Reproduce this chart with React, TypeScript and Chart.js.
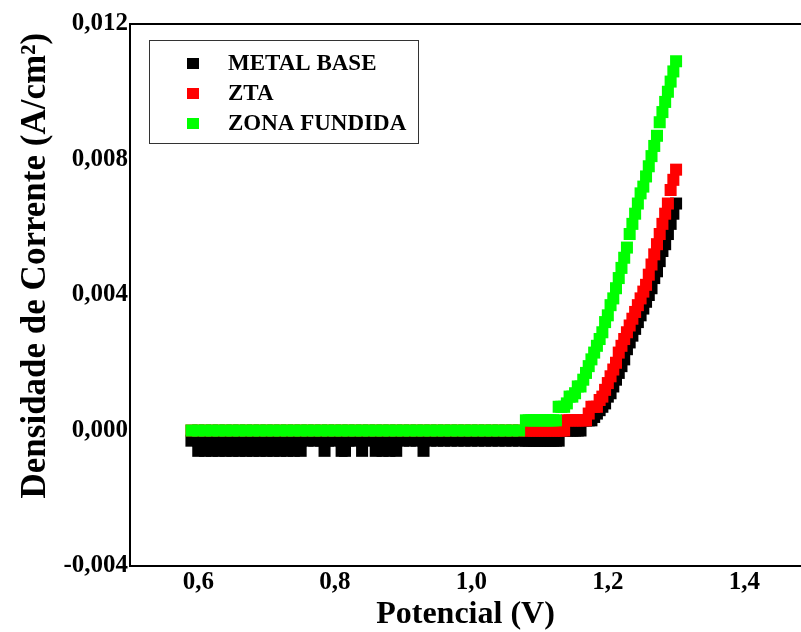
import React, { useEffect, useRef } from "react";
import { Chart, registerables } from "chart.js";

Chart.register(...registerables);

// Potential (V)
const potential = [
  0.59, 0.60, 0.61, 0.62, 0.63, 0.64, 0.65, 0.66, 0.67, 0.68,
  0.69, 0.70, 0.71, 0.72, 0.73, 0.74, 0.75, 0.76, 0.77, 0.78,
  0.79, 0.80, 0.81, 0.82, 0.83, 0.84, 0.85, 0.86, 0.87, 0.88,
  0.89, 0.90, 0.91, 0.92, 0.93, 0.94, 0.95, 0.96, 0.97, 0.98,
  0.99, 1.00, 1.01, 1.02, 1.03, 1.04, 1.05, 1.06, 1.07,
  1.080, 1.084, 1.088, 1.092, 1.096, 1.100, 1.104, 1.108, 1.112, 1.116,
  1.120, 1.124, 1.128, 1.132, 1.136, 1.140, 1.144, 1.148, 1.152, 1.156,
  1.160, 1.164, 1.168, 1.172, 1.176, 1.180, 1.184, 1.188, 1.192, 1.196,
  1.200, 1.204, 1.208, 1.212, 1.216, 1.220, 1.224, 1.228, 1.232, 1.236,
  1.240, 1.244, 1.248, 1.252, 1.256, 1.260, 1.264, 1.268, 1.272, 1.276,
  1.280, 1.284, 1.288, 1.292, 1.296, 1.300,
];

// Current density (A/cm²)
const metalBase = [
  -0.0003, -0.0003, -0.0003, -0.0003, -0.0003, -0.0003, -0.0003, -0.0003, -0.0003, -0.0003,
  -0.0003, -0.0003, -0.0003, -0.0003, -0.0003, -0.0003, -0.0003, -0.0003, -0.0003, -0.0003,
  -0.0003, -0.0003, -0.0003, -0.0003, -0.0003, -0.0003, -0.0003, -0.0003, -0.0003, -0.0003,
  -0.0003, -0.0003, -0.0003, -0.0003, -0.0003, -0.0003, -0.0003, -0.0003, -0.0003, -0.0003,
  -0.0003, -0.0003, -0.0003, -0.0003, -0.0003, -0.0003, -0.0003, -0.0003, -0.0003,
  -0.0003, -0.0003, -0.0003, -0.0003, -0.0003, -0.0003, -0.0003, -0.0003, -0.0003, -0.0003,
  -0.0003, -0.0003, -0.0003, 0, 0, 0, 0, 0, 0, 0,
  0, 0.0003, 0.0003, 0.0003, 0.0003, 0.0004, 0.0005, 0.0006, 0.0007, 0.0008,
  0.0010, 0.0011, 0.0013, 0.0015, 0.0017, 0.0019, 0.0021, 0.0024, 0.0026, 0.0028,
  0.0030, 0.0032, 0.0034, 0.0036, 0.0038, 0.0040, 0.0042, 0.0045, 0.0047, 0.0050,
  0.0053, 0.0055, 0.0058, 0.0061, 0.0064, 0.0067,
];

const zta = [
  0, 0, 0, 0, 0, 0, 0, 0, 0, 0,
  0, 0, 0, 0, 0, 0, 0, 0, 0, 0,
  0, 0, 0, 0, 0, 0, 0, 0, 0, 0,
  0, 0, 0, 0, 0, 0, 0, 0, 0, 0,
  0, 0, 0, 0, 0, 0, 0, 0, 0,
  0, 0, 0, 0, 0, 0, 0, 0, 0, 0,
  0, 0, 0, 0, 0, 0.0003, 0.0003, 0.0003, 0.0003, 0.0003,
  0.0003, 0.0003, 0.0003, 0.0005, 0.0007, 0.0007, 0.0007, 0.0009, 0.0010, 0.0012,
  0.0014, 0.0016, 0.0018, 0.0020, 0.0023, 0.0025, 0.0027, 0.0029, 0.0031, 0.0033,
  0.0035, 0.0037, 0.0039, 0.0041, 0.0043, 0.0046, 0.0049, 0.0052, 0.0055, 0.0058,
  0.0061, 0.0064, 0.0067, 0.0071, 0.0074, 0.0077,
];

const zonaFundida = [
  0, 0, 0, 0, 0, 0, 0, 0, 0, 0,
  0, 0, 0, 0, 0, 0, 0, 0, 0, 0,
  0, 0, 0, 0, 0, 0, 0, 0, 0, 0,
  0, 0, 0, 0, 0, 0, 0, 0, 0, 0,
  0, 0, 0, 0, 0, 0, 0, 0, 0,
  0.0003, 0.0003, 0.0003, 0.0003, 0.0003, 0.0003, 0.0003, 0.0003, 0.0003, 0.0003,
  0.0003, 0.0003, 0.0007, 0.0007, 0.0007, 0.0008, 0.0010, 0.0010, 0.0011, 0.0013,
  0.0013, 0.0015, 0.0017, 0.0019, 0.0021, 0.0023, 0.0025, 0.0027, 0.0029, 0.0032,
  0.0034, 0.0037, 0.0039, 0.0042, 0.0045, 0.0048, 0.0051, 0.0054, 0.0058, 0.0061,
  0.0064, 0.0067, 0.0070, 0.0072, 0.0075, 0.0078, 0.0081, 0.0084, 0.0087, 0.0091,
  0.0094, 0.0097, 0.0100, 0.0103, 0.0106, 0.0109,
];

// Extra (noisy) lower readings of the base metal
const metalBaseLowPotential = [
  0.60, 0.61, 0.62, 0.63, 0.64, 0.65, 0.66, 0.67, 0.68, 0.69,
  0.70, 0.71, 0.72, 0.73, 0.74, 0.75, 0.785, 0.81, 0.815, 0.84,
  0.86, 0.87, 0.88, 0.89, 0.93,
];
const metalBaseLowValues = [
  -0.0006, -0.0006, -0.0006, -0.0006, -0.0006, -0.0006, -0.0006, -0.0006, -0.0006, -0.0006,
  -0.0006, -0.0006, -0.0006, -0.0006, -0.0006, -0.0006, -0.0006, -0.0006, -0.0006, -0.0006,
  -0.0006, -0.0006, -0.0006, -0.0006, -0.0006,
];

const seriesLabels = ["METAL BASE", "ZTA", "ZONA FUNDIDA"];
const seriesColors = ["#000000", "#FF0000", "#00FF00"];
const xTickValues = [0.6, 0.8, 1.0, 1.2, 1.4];
const yTickValues = [-0.004, 0, 0.004, 0.008, 0.012];
const xTitle = "Potencial (V)";
const yTitle = "Densidade de Corrente (A/cm²) ";

const FONT = '"Liberation Serif", "Times New Roman", serif';

const frameLegendPlugin = {
  id: "frameLegend",
  afterDraw(chart: any) {
    const { ctx, chartArea } = chart;
    ctx.save();
    // top frame line
    ctx.fillStyle = "#000";
    ctx.fillRect(chartArea.left - 1, chartArea.top - 1, chartArea.right - chartArea.left + 1, 2);
    // legend box
    const x0 = chartArea.left + 19.5;
    const y0 = chartArea.top + 16.5;
    ctx.strokeStyle = "#333";
    ctx.lineWidth = 1;
    ctx.strokeRect(x0, y0, 269, 103);
    ctx.font = `bold 23px ${FONT}`;
    ctx.textBaseline = "middle";
    ctx.textAlign = "left";
    chart.data.datasets.forEach((ds: any, i: number) => {
      const cy = y0 + 23 + 30 * i;
      ctx.fillStyle = ds.backgroundColor;
      ctx.fillRect(x0 + 37.5, cy - 5.5, 12, 11);
      ctx.fillStyle = "#000";
      ctx.fillText(ds.label, x0 + 78.5, cy + 1);
    });
    ctx.restore();
  },
};

export default function App() {
  const ref = useRef<HTMLCanvasElement>(null);

  useEffect(() => {
    const black = potential.map((x, i) => ({ x, y: metalBase[i] })).concat(
      metalBaseLowPotential.map((x, i) => ({ x, y: metalBaseLowValues[i] }))
    );
    const red = potential.map((x, i) => ({ x, y: zta[i] }));
    const green = potential.map((x, i) => ({ x, y: zonaFundida[i] }));
    const all = [black, red, green];

    const tickFont = { family: FONT, size: 25, weight: "bold" as const };

    const chart = new Chart(ref.current as HTMLCanvasElement, {
      type: "scatter",
      data: {
        datasets: all.map((data, i) => ({
          label: seriesLabels[i],
          data,
          backgroundColor: seriesColors[i],
          borderColor: seriesColors[i],
          pointStyle: "rect",
          pointRadius: 8.5,
          pointBorderWidth: 0,
          borderWidth: 0,
          showLine: false,
          order: 3 - i,
        })),
      },
      options: {
        responsive: false,
        animation: false,
        events: [],
        layout: { autoPadding: false, padding: { top: 24, left: 0, right: 0, bottom: 0 } },
        plugins: {
          legend: { display: false },
          tooltip: { enabled: false },
        },
        scales: {
          x: {
            type: "linear",
            min: 0.5,
            max: 1.483,
            afterBuildTicks: (s: any) => {
              s.ticks = xTickValues.map((v) => ({ value: v }));
            },
            afterFit: (s: any) => {
              s.height = 66;
            },
            grid: { drawOnChartArea: false, drawTicks: false },
            border: { display: true, color: "#000", width: 2 },
            ticks: {
              color: "#000",
              font: tickFont,
              padding: 2,
              autoSkip: false,
              maxRotation: 0,
              callback: (v: any) => Number(v).toFixed(1).replace(".", ","),
            },
            title: {
              display: true,
              text: xTitle,
              color: "#000",
              font: { family: FONT, size: 32, weight: "bold", lineHeight: 1 },
              padding: { top: 0, bottom: 1 },
            },
          },
          y: {
            type: "linear",
            min: -0.004,
            max: 0.012,
            afterBuildTicks: (s: any) => {
              s.ticks = yTickValues.map((v) => ({ value: v }));
            },
            afterFit: (s: any) => {
              s.width = 130;
            },
            grid: { drawOnChartArea: false, drawTicks: false },
            border: { display: true, color: "#000", width: 2 },
            ticks: {
              color: "#000",
              font: tickFont,
              padding: 2,
              autoSkip: false,
              callback: (v: any) => Number(v).toFixed(3).replace(".", ","),
            },
            title: {
              display: true,
              text: yTitle,
              align: "end",
              color: "#000",
              font: { family: FONT, size: 35, weight: "bold" },
              padding: { top: 15, bottom: 0 },
            },
          },
        },
      },
      plugins: [frameLegendPlugin],
    } as any);

    return () => chart.destroy();
  }, []);

  return (
    <div style={{ position: "fixed", left: 0, top: 0, width: 801, height: 632, background: "#fff" }}>
      <canvas ref={ref} width={801} height={632} style={{ display: "block", width: 801, height: 632 }} />
    </div>
  );
}
